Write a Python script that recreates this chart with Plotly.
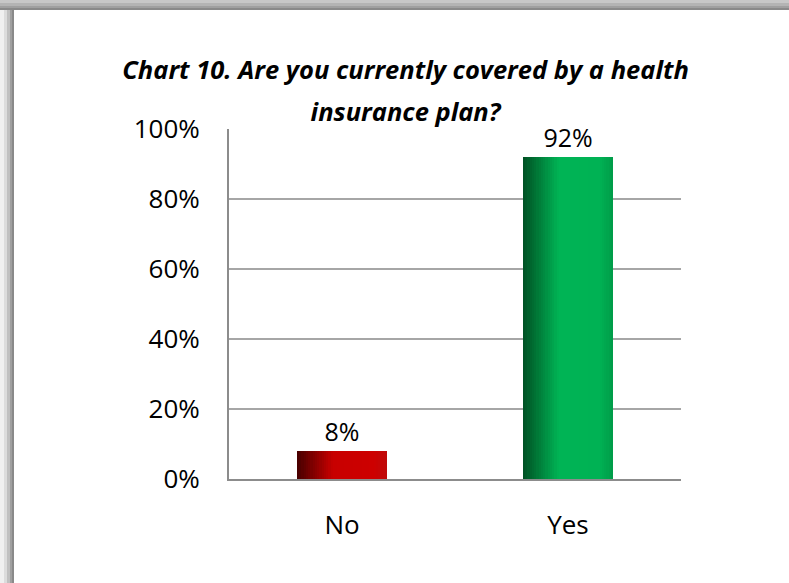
import plotly.graph_objects as go

categories = ["No", "Yes"]
values = [0.08, 0.92]
title_lines = ["Chart 10. Are you currently covered by a health", "insurance plan?"]
y_ticks = [0, 0.2, 0.4, 0.6, 0.8, 1.0]
y_tick_labels = ["0%", "20%", "40%", "60%", "80%", "100%"]

W, H = 789, 583
ML, MR, MT, MB = 229, 108, 129, 104
PW, PH = W - ML - MR, H - MT - MB

# gradient stops (position across bar, colour) per category
stops = {
    "No": [(0.0, (70, 0, 0)), (0.40, (200, 0, 0)), (0.85, (205, 0, 0)), (1.0, (190, 10, 10))],
    "Yes": [(0.0, (0, 80, 35)), (0.40, (0, 180, 85)), (0.85, (0, 178, 84)), (1.0, (0, 155, 72))],
}

def col_at(cat, t):
    s = stops[cat]
    for (p0, c0), (p1, c1) in zip(s[:-1], s[1:]):
        if p0 <= t <= p1:
            f = (t - p0) / (p1 - p0) if p1 > p0 else 0
            c = [round(a + (b - a) * f) for a, b in zip(c0, c1)]
            return "rgb(%d,%d,%d)" % tuple(c)
    c = s[-1][1]
    return "rgb(%d,%d,%d)" % c

BAR_W = 0.4
N = 40
step = BAR_W / N

fig = go.Figure()
for k in range(N):
    t = (k + 0.5) / N
    colors = [col_at(c, t) for c in categories]
    fig.add_trace(go.Bar(
        x=categories, y=values,
        offset=-BAR_W / 2 + k * step,
        width=step * 1.3 if k < N - 1 else step,
        marker=dict(color=colors, line=dict(width=0)),
        showlegend=False, hoverinfo="skip",
    ))

fig.add_trace(go.Bar(
    x=categories, y=values, width=BAR_W,
    marker=dict(color="rgba(0,0,0,0)", line=dict(width=0)),
    text=[f"{v:.0%}" for v in values], textposition="outside",
    textfont=dict(family="Open Sans", size=25, color="black"),
    cliponaxis=False, showlegend=False, hoverinfo="skip",
))

# frame / shadow (decoration) in paper coordinates
def px_x(px):
    return (px - ML) / PW

def px_y(py):
    return 1 - (py - MT) / PH

shapes = []
left_bands = [(0, 4, "#f0f0f0"), (4, 7, "#dcdcdc"), (7, 10, "#c0c0c0"), (10, 12, "#a0a0a0"), (12, 14, "#8a8a8a")]
for a, b, c in left_bands:
    shapes.append(dict(type="rect", xref="paper", yref="paper", x0=px_x(a), x1=px_x(b),
                       y0=px_y(H), y1=px_y(0), fillcolor=c, line=dict(width=0), layer="below"))
top_bands = [(0, 3, "#c8c8c8"), (3, 6, "#b4b4b4"), (6, 8, "#a0a0a0"), (8, 10, "#8a8a8a")]
for a, b, c in top_bands:
    shapes.append(dict(type="rect", xref="paper", yref="paper", x0=px_x(0), x1=px_x(W),
                       y0=px_y(b), y1=px_y(a), fillcolor=c, line=dict(width=0), layer="below"))

title_html = "<br>".join(f"<span style='font-size:25.5px'>{t}</span>" for t in title_lines)

fig.update_layout(
    width=W, height=H,
    margin=dict(l=ML, r=MR, t=MT, b=MB),
    paper_bgcolor="white", plot_bgcolor="white",
    barmode="overlay", bargap=0,
    title=dict(text=title_html, x=0.514, xanchor="center", y=0.8645, yanchor="middle",
               font=dict(family="Open Sans", size=32, color="black", weight="bold", style="italic")),
    xaxis=dict(showline=True, linecolor="#8c8c8c", linewidth=2, showgrid=False,
               ticks="", tickfont=dict(family="Open Sans", size=26, color="black"),
               ticklabelstandoff=22, fixedrange=True),
    yaxis=dict(range=[0, 1], tickvals=y_ticks, ticktext=y_tick_labels,
               showline=True, linecolor="#8c8c8c", linewidth=2,
               showgrid=True, gridcolor="#a6a6a6", gridwidth=2, zeroline=False,
               ticks="", tickfont=dict(family="Open Sans", size=26, color="black"),
               ticklabelstandoff=22, fixedrange=True),
    shapes=shapes,
    showlegend=False,
)

fig.write_html("out.html", config={"displayModeBar": False},
               post_script="document.body.style.margin='0';document.body.style.overflow='hidden';")
